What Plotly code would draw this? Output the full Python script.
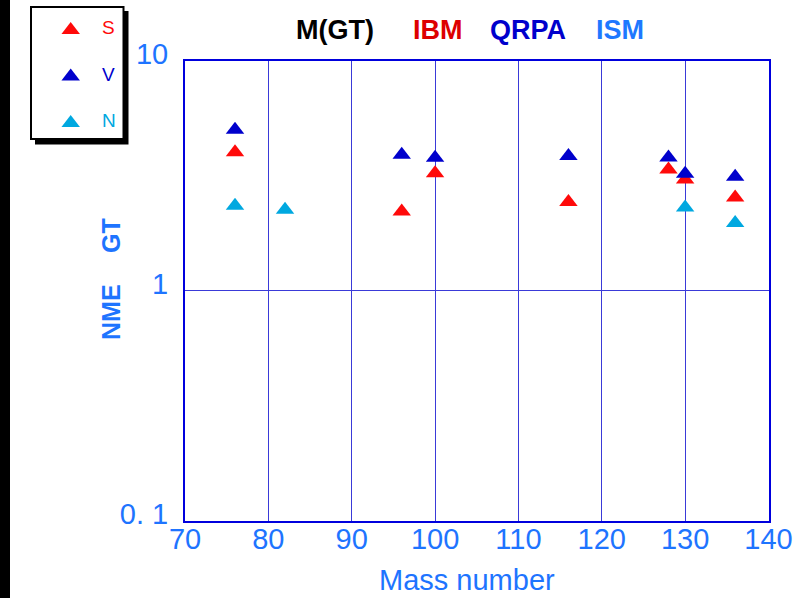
import plotly.graph_objects as go

# Gamow-Teller nuclear matrix elements versus mass number
mass_ibm = [76, 96, 100, 116, 128, 130, 136]
nme_ibm = [4.00, 2.21, 3.24, 2.43, 3.36, 3.04, 2.54]

mass_qrpa = [76, 96, 100, 116, 128, 130, 136]
nme_qrpa = [5.0, 3.90, 3.78, 3.85, 3.79, 3.22, 3.13]

mass_ism = [76, 82, 130, 136]
nme_ism = [2.34, 2.25, 2.30, 1.97]

x_ticks = [70, 80, 90, 100, 110, 120, 130, 140]
y_ticks = [0.1, 1, 10]
y_ticktext = ["0. 1", "1", "10"]

legend_labels = ["S", "V", "N"]
header_words = ["M(GT)", "IBM", "QRPA", "ISM"]

RED = "#ff0a0a"
DARK_BLUE = "#0000cc"
CYAN = "#00a8e0"
TICK_BLUE = "#1e74ff"
AXIS_BLUE = "#0000dd"
GRID_BLUE = "#3a3ad8"
FONT = "Liberation Sans, Arial, sans-serif"

W, H = 802, 598
MSIZE = 16


def px_x(p):
    return p / W


def px_y(p):
    return 1 - p / H


fig = go.Figure()

series = [
    (mass_ibm, nme_ibm, RED),
    (mass_qrpa, nme_qrpa, DARK_BLUE),
    (mass_ism, nme_ism, CYAN),
]
for xs, ys, col in series:
    fig.add_trace(go.Scatter(
        x=xs, y=ys, mode="markers", showlegend=False,
        marker=dict(symbol="triangle-up", size=MSIZE, color=col, line=dict(width=0)),
        xaxis="x", yaxis="y", hoverinfo="x+y",
    ))

# legend key drawn on its own hidden axes
legend_colors = [RED, DARK_BLUE, CYAN]
fig.add_trace(go.Scatter(
    x=[70.7] * len(legend_labels), y=list(range(len(legend_labels))),
    mode="markers", showlegend=False, hoverinfo="skip",
    marker=dict(symbol="triangle-up", size=MSIZE, color=legend_colors, line=dict(width=0)),
    xaxis="x2", yaxis="y2",
))

annotations = []
for i, (lab, col) in enumerate(zip(legend_labels, legend_colors)):
    annotations.append(dict(
        x=108.5, y=i - 0.05, xref="x2", yref="y2", text=lab, showarrow=False,
        font=dict(family=FONT, size=19, color=col), xanchor="center", yanchor="middle",
    ))

header_colors = ["#000000", "#dd0000", "#0000cc", "#1e78ff"]
header_x = [335, 438, 528, 620]
for word, col, cx in zip(header_words, header_colors, header_x):
    annotations.append(dict(
        x=px_x(cx), y=px_y(30), xref="paper", yref="paper", text=f"<b>{word}</b>",
        showarrow=False, font=dict(family=FONT, size=27, color=col),
        xanchor="center", yanchor="middle",
    ))

annotations.append(dict(
    x=px_x(467), y=px_y(580), xref="paper", yref="paper", text="Mass number",
    showarrow=False, font=dict(family=FONT, size=29, color=TICK_BLUE),
    xanchor="center", yanchor="middle",
))
# rotated y-axis title, two words set apart
for word, cy in (("NME", 312), ("GT", 236)):
    annotations.append(dict(
        x=px_x(111), y=px_y(cy), xref="paper", yref="paper", text=f"<b>{word}</b>",
        showarrow=False, textangle=-90, font=dict(family=FONT, size=25, color=TICK_BLUE),
        xanchor="center", yanchor="middle",
    ))

shapes = [
    # dark strip along the left edge
    dict(type="rect", xref="paper", yref="paper", x0=0, x1=px_x(10), y0=0, y1=1,
         fillcolor="black", line=dict(width=0), layer="below"),
    # legend box shadow and frame
    dict(type="rect", xref="paper", yref="paper", x0=px_x(35), x1=px_x(128.5),
         y0=px_y(144.5), y1=px_y(11), fillcolor="black", line=dict(width=0), layer="below"),
    dict(type="rect", xref="paper", yref="paper", x0=px_x(31), x1=px_x(123.5),
         y0=px_y(139), y1=px_y(7), fillcolor="white",
         line=dict(color="black", width=2), layer="below"),
]

fig.update_layout(
    width=W, height=H, autosize=False,
    margin=dict(l=0, r=0, t=0, b=0, pad=0, autoexpand=False),
    paper_bgcolor="white", plot_bgcolor="white",
    showlegend=False,
    font=dict(family=FONT),
    xaxis=dict(
        domain=[px_x(185), px_x(768.5)], range=[70, 140], automargin=False,
        tickvals=x_ticks, ticks="", showgrid=True, gridcolor=GRID_BLUE, gridwidth=1,
        showline=True, linecolor=AXIS_BLUE, linewidth=2, mirror=True, zeroline=False,
        tickfont=dict(family=FONT, size=29, color=TICK_BLUE), ticklabelstandoff=-9,
        anchor="y",
    ),
    yaxis=dict(
        domain=[px_y(521), px_y(60.5)], type="log", range=[-1, 1], automargin=False,
        tickvals=y_ticks, ticktext=y_ticktext, ticks="",
        showgrid=True, gridcolor=GRID_BLUE, gridwidth=1,
        showline=True, linecolor=AXIS_BLUE, linewidth=2, mirror=True, zeroline=False,
        tickfont=dict(family=FONT, size=29, color=TICK_BLUE), ticklabelstandoff=9,
        ticklabelshift=-7, anchor="x",
    ),
    xaxis2=dict(domain=[0, px_x(130)], range=[0, 130], visible=False, anchor="y2",
                fixedrange=True, automargin=False),
    yaxis2=dict(domain=[px_y(145), 1], range=[2.473, -0.645], visible=False, anchor="x2",
                fixedrange=True, automargin=False),
    annotations=annotations,
    shapes=shapes,
)

fig.write_html("out.html")
